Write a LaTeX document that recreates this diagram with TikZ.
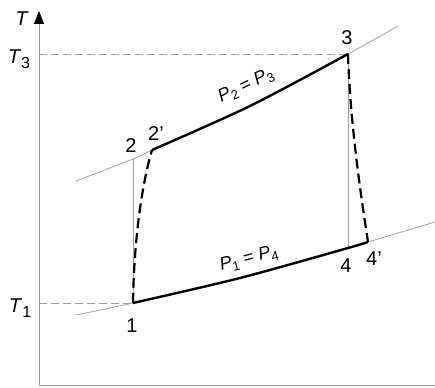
\documentclass[tikz,border=0pt]{standalone}
\usepackage{fontspec}
\setmainfont{Liberation Sans}
\usetikzlibrary{arrows.meta}
\newcommand{\Tsub}[1]{\textit{T}\raisebox{-0.45ex}{\fontsize{16}{16}\selectfont #1}}
\newcommand{\Psub}[1]{\textit{P}\raisebox{-0.4ex}{\fontsize{13}{13}\selectfont #1}}

\begin{document}
\begin{tikzpicture}[x=1pt,y=-1pt,
    axis/.style={gray!80,line width=1pt},
    isobar/.style={gray!75,line width=0.8pt},
    guide/.style={gray!75,line width=0.8pt,dash pattern=on 8pt off 4pt},
    process/.style={black,line width=2.4pt},
    realstep/.style={black,line width=2.2pt,dash pattern=on 10pt off 5pt},
    lab/.style={font=\fontsize{20}{22}\selectfont,inner sep=0pt}]
  \useasboundingbox (0,0) rectangle (435,387);
  % axes
  \draw[axis,-{Triangle[length=13pt,width=10pt,color=black]}] (39,385) -- (39,11);
  \draw[axis] (39,385) -- (435,385);
  \node[lab] (Taxis) at (22,19) {\textit{T}};
  % state points
  \coordinate (p1)  at (133,303);
  \coordinate (p2)  at (133,159);
  \coordinate (p2s) at (152,150);
  \coordinate (p3)  at (348,54);
  \coordinate (p4)  at (348,248);
  \coordinate (p4s) at (368,242);
  % extra points along the two isobars
  \coordinate (hiA) at (76,181);
  \coordinate (hiM) at (250,106);
  \coordinate (hiB) at (398,26);
  \coordinate (loA) at (76,315);
  \coordinate (loM) at (240,278);
  \coordinate (loB) at (435,222);
  % temperature guides
  \draw[guide] (39,54) -- (p3);
  \draw[guide] (39,303) -- (p1);
  \node[lab] (T3) at (19,59) {\Tsub{3}};
  \node[lab] (T1) at (20,308) {\Tsub{1}};
  % thin isobars and ideal (isentropic) steps
  \draw[isobar] plot[smooth] coordinates {(hiA) (p2) (p2s) (hiM) (p3) (hiB)};
  \draw[isobar] plot[smooth] coordinates {(loA) (p1) (loM) (p4) (p4s) (loB)};
  \draw[isobar] (p1) -- (p2);
  \draw[isobar] (p3) -- (p4);
  % real cycle
  \draw[process] plot[smooth] coordinates {(p2s) (hiM) (p3)};
  \draw[process] plot[smooth] coordinates {(p1) (loM) (p4) (p4s)};
  \draw[realstep] (p1) .. controls (134,235) and (143,180) .. (p2s);
  \draw[realstep] (p3) .. controls (350,120) and (360,190) .. (p4s);
  % labels
  \node[lab] (l1)  at (132,326) {1};
  \node[lab] (l2)  at (131,146) {2};
  \node[lab] (l2s) at (156,134) {2'};
  \node[lab] (l3)  at (347,38)  {3};
  \node[lab] (l4)  at (346,266) {4};
  \node[lab] (l4s) at (374,259) {4'};
  \node[lab,font=\fontsize{18}{19}\selectfont,rotate=26] (pHi) at (246,86) {\Psub{2} = \Psub{3}};
  \node[lab,font=\fontsize{18}{19}\selectfont,rotate=14] (pLo) at (249,259) {\Psub{1} = \Psub{4}};
\end{tikzpicture}
\end{document}
